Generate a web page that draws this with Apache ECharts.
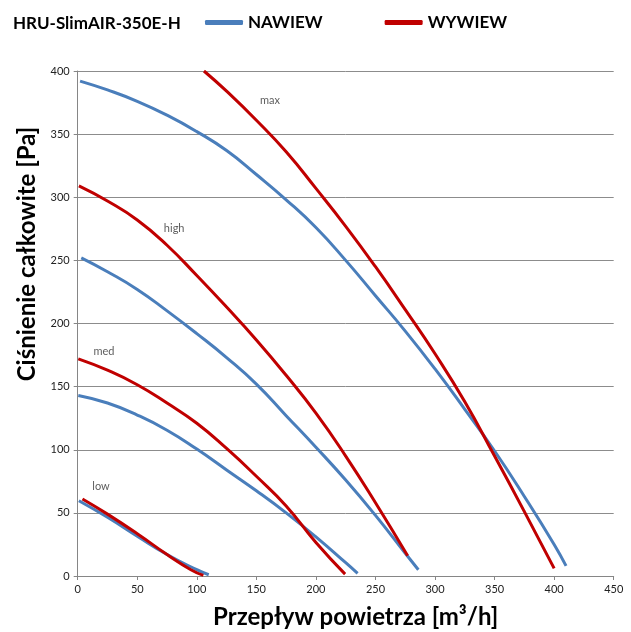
<!DOCTYPE html>
<html>
<head>
<meta charset="utf-8">
<script src="https://cdn.jsdelivr.net/npm/echarts@6/dist/echarts.min.js"></script>
<style>html,body{margin:0;padding:0;background:#fff}#c{width:631px;height:632px}</style>
</head>
<body>
<div id="c"></div>
<script>
const xTicks = [0, 50, 100, 150, 200, 250, 300, 350, 400, 450];
const yTicks = [0, 50, 100, 150, 200, 250, 300, 350, 400];

const nawiewMax = [[2,392],[25,385],[50,376],[75,365],[100,352],[125,337],[150,318],[175,298],[200,276],[225,250],[250,222],[275,194],[300,164],[325,132],[350,99],[375,63],[400,25],[410,8]];
const wywiewMax = [[106,400],[125,384],[150,361],[175,336],[200,307],[225,277],[250,245],[275,211],[300,176],[325,138],[350,95],[375,51],[400,6]];
const nawiewHigh = [[3,252],[25,241],[50,227],[75,210],[100,192],[125,173],[150,152],[175,127],[200,102],[225,76],[250,48],[275,18],[286,5]];
const wywiewHigh = [[1,309],[25,297],[50,282],[75,262],[100,238],[125,213],[150,187],[175,159],[200,129],[225,95],[250,58],[277,16]];
const nawiewMed = [[0.5,143],[25,137],[50,127.5],[75,115.5],[100,100.5],[125,84],[150,67.5],[175,50],[200,31],[225,10.5],[235,2]];
const wywiewMed = [[0.5,172],[25,163],[50,151.5],[75,137],[100,121],[125,101],[150,79],[175,55.5],[200,26.5],[224.5,1.5]];
const nawiewLow = [[1,59.6],[25,46.5],[50,31.5],[75,17],[100,5],[110,1]];
const wywiewLow = [[4,61],[25,49],[50,33.5],[75,17],[95,5],[105.5,0.5]];

const speedLabels = ['max', 'high', 'med', 'low'];
const speedLabelPos = [[161.5,377],[81,275],[22,178],[19.6,70.7]];

const BLUE = '#4a7ebb', RED = '#c00000';
const FONT = 'Lato';

function line(name, data, color) {
  return {
    name: name, type: 'line', data: data, smooth: 0.5,
    showSymbol: false, symbol: 'none',
    lineStyle: { color: color, width: 3 }, itemStyle: { color: color }, z: color === RED ? 3 : 2
  };
}

const chart = echarts.init(document.getElementById('c'), null, { renderer: 'canvas' });
chart.setOption({
  animation: false,
  backgroundColor: '#fff',
  title: {
    text: 'HRU-SlimAIR-350E-H', left: 8, top: 10,
    textStyle: { fontFamily: FONT, fontWeight: 'bold', fontSize: 17, color: '#000' }
  },
  legend: {
    data: ['NAWIEW', 'WYWIEW'], left: 200, top: 9, itemWidth: 38, itemHeight: 5, itemGap: 62,
    icon: 'roundRect',
    textStyle: { fontFamily: FONT, fontWeight: 'bold', fontSize: 17, color: '#000' }
  },
  grid: { left: 77.7, right: 17.3, top: 71, bottom: 56, containLabel: false, outerBoundsMode: 'none' },
  xAxis: {
    type: 'value', min: 0, max: 450, interval: 50,
    name: 'Przepływ powietrza [m³/h]', nameLocation: 'middle', nameGap: 29,
    nameTextStyle: { fontFamily: FONT, fontWeight: 'bold', fontSize: 24, color: '#000', padding: [0, 0, 0, 20] },
    axisLine: { show: true, lineStyle: { color: '#868686', width: 1 } },
    axisTick: { show: true, inside: false, length: 4, lineStyle: { color: '#868686' } },
    axisLabel: { fontFamily: FONT, fontSize: 11, color: '#222', margin: 8,
      formatter: v => xTicks.includes(v) ? String(v) : '' },
    splitLine: { show: false }
  },
  yAxis: {
    type: 'value', min: 0, max: 400, interval: 50,
    axisLine: { show: true, lineStyle: { color: '#868686', width: 1 } },
    axisTick: { show: true, inside: false, length: 4, lineStyle: { color: '#868686' } },
    axisLabel: { fontFamily: FONT, fontSize: 11, color: '#222', margin: 8,
      formatter: v => yTicks.includes(v) ? String(v) : '' },
    splitLine: { show: true, lineStyle: { color: '#8c8c8c', width: 1 } }
  },
  graphic: [{
    type: 'text', x: 27, y: 254, rotation: Math.PI / 2,
    style: { text: 'Ciśnienie całkowite [Pa]', font: 'bold 24px ' + FONT, fill: '#000',
      align: 'center', verticalAlign: 'middle' }
  }],
  series: [
    line('NAWIEW', nawiewMax, BLUE),
    line('NAWIEW', nawiewHigh, BLUE),
    line('NAWIEW', nawiewMed, BLUE),
    line('NAWIEW', nawiewLow, BLUE),
    line('WYWIEW', wywiewMax, RED),
    line('WYWIEW', wywiewHigh, RED),
    line('WYWIEW', wywiewMed, RED),
    line('WYWIEW', wywiewLow, RED),
    {
      name: 'labels', type: 'scatter', symbolSize: 0, z: 5,
      data: speedLabels.map((s, i) => ({ name: s, value: speedLabelPos[i] })),
      label: { show: true, position: 'inside', formatter: p => p.name,
        fontFamily: FONT, fontSize: 11, color: '#333' }
    }
  ]
});
</script>
</body>
</html>
